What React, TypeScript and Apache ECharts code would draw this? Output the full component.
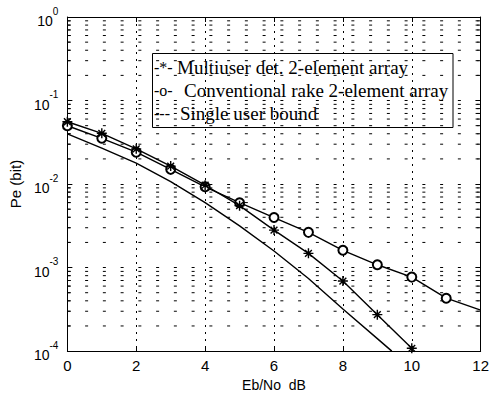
import React, { useEffect, useRef } from "react";
import * as echarts from "echarts";

// Eb/No (dB) and bit error probability
const X_MU = [0, 1, 2, 3, 4, 5, 6, 7, 8, 9, 10];
const PE_MU = [0.0557, 0.0405, 0.0264, 0.0164, 0.00968, 0.00551, 0.00281, 0.00148, 0.00069, 0.000273, 0.000108];

const X_CONV = [0, 1, 2, 3, 4, 5, 6, 7, 8, 9, 10, 11, 12];
const PE_CONV = [0.0499, 0.0353, 0.0241, 0.015, 0.00926, 0.00598, 0.00397, 0.00264, 0.00161, 0.00108, 0.000769, 0.00043, 0.00031];

const X_SU = [0, 1, 2, 3, 4, 5, 6, 7, 8, 9, 9.42];
const PE_SU = [0.0398, 0.0269, 0.0178, 0.0107, 0.006, 0.00316, 0.00158, 0.00074, 0.00032, 0.000141, 0.0001];

const LEGEND_SYMBOLS = ["-*-", "-o-", "---"];
const LEGEND_LABELS = [
  "Multiuser det. 2-element array",
  "Conventional rake 2-element array",
  "Single user bound",
];

const X_TICKS = [0, 2, 4, 6, 8, 10, 12];
const Y_DECADES = [-4, -3, -2, -1, 0];
const MINOR_MULTIPLIERS = [2, 3, 4, 5, 6, 7, 8, 9];

const X_MIN = X_TICKS[0];
const X_MAX = X_TICKS[X_TICKS.length - 1];
const Y_MIN = Math.pow(10, Y_DECADES[0]);
const Y_MAX = Math.pow(10, Y_DECADES[Y_DECADES.length - 1]);

const STAR = "path://M5,0L5,10M0,5L10,5M1.6,1.6L8.4,8.4M1.6,8.4L8.4,1.6";

export default function App() {
  const ref = useRef<HTMLDivElement>(null);

  useEffect(() => {
    if (!ref.current) return;
    const chart = echarts.init(ref.current, undefined, { renderer: "svg" });

    const minorValues: number[] = [];
    for (let d = Y_DECADES[0]; d < Y_DECADES[Y_DECADES.length - 1]; d++) {
      for (const m of MINOR_MULTIPLIERS) minorValues.push(m * Math.pow(10, d));
    }

    const sans = "Liberation Sans";
    const serif = "Liberation Serif";
    const rowY = [67, 90, 113];
    const labelX = [177, 184, 180];
    const tickLen = 0.1; // ~3.5px in x units

    const gridData: any[] = [];
    const leftTickData: any[] = [];
    const rightTickData: any[] = [];
    for (const v of minorValues) {
      gridData.push([X_MIN, v], [X_MAX, v], null);
      leftTickData.push([X_MIN, v], [X_MIN + tickLen, v], null);
      rightTickData.push([X_MAX - tickLen, v], [X_MAX, v], null);
    }

    const helperLine = (name: string, data: any[], type: any) => ({
      type: "line",
      name,
      z: 1,
      silent: true,
      data,
      symbol: "none",
      connectNulls: false,
      lineStyle: { color: "#000", width: 1, type },
    });

    const option: any = {
      animation: false,
      backgroundColor: "#fff",
      grid: { left: 59, right: 7, top: 17, bottom: 43 },
      xAxis: [
        {
          type: "value",
          min: X_MIN,
          max: X_MAX,
          interval: 2,
          name: "Eb/No  dB",
          nameLocation: "middle",
          nameGap: 22,
          nameTextStyle: { fontFamily: sans, fontSize: 14, color: "#000" },
          axisLine: { show: true, lineStyle: { color: "#000", width: 1 } },
          axisTick: { show: true, inside: true, length: 5, lineStyle: { color: "#000" } },
          axisLabel: { fontFamily: sans, fontSize: 15, color: "#000", margin: 7 },
          splitLine: { show: true, lineStyle: { color: "#000", width: 1, type: [2, 5] } },
        },
        {
          type: "value",
          position: "top",
          min: X_MIN,
          max: X_MAX,
          interval: 2,
          axisLine: { show: true, onZero: false, lineStyle: { color: "#000", width: 1 } },
          axisTick: { show: true, inside: true, length: 5, lineStyle: { color: "#000" } },
          axisLabel: { show: false },
          splitLine: { show: false },
        },
      ],
      yAxis: [
        {
          type: "log",
          logBase: 10,
          min: Y_MIN,
          max: Y_MAX,
          name: "Pe (bit)",
          nameLocation: "middle",
          nameGap: 38,
          nameTextStyle: { fontFamily: sans, fontSize: 15, color: "#000" },
          axisLine: { show: true, lineStyle: { color: "#000", width: 1 } },
          axisTick: { show: true, inside: true, length: 5, lineStyle: { color: "#000" } },
          axisLabel: {
            margin: 9,
            formatter: (v: number) => `{b|10}{s|${Math.round(Math.log10(v))}}`,
            rich: {
              b: { fontFamily: sans, fontSize: 14, color: "#000", lineHeight: 22, verticalAlign: "bottom" },
              s: { fontFamily: sans, fontSize: 10, color: "#000", lineHeight: 12, verticalAlign: "top" },
            },
          },
          splitLine: { show: true, lineStyle: { color: "#000", width: 1, type: [3, 14.75] } },
        },
        {
          type: "log",
          logBase: 10,
          position: "right",
          min: Y_MIN,
          max: Y_MAX,
          axisLine: { show: true, onZero: false, lineStyle: { color: "#000", width: 1 } },
          axisTick: { show: true, inside: true, length: 5, lineStyle: { color: "#000" } },
          axisLabel: { show: false },
          splitLine: { show: false },
        },
      ],
      series: [
        {
          type: "line",
          name: LEGEND_LABELS[2],
          z: 3,
          data: X_SU.map((x, i) => [x, PE_SU[i]]),
          symbol: "none",
          lineStyle: { color: "#000", width: 1.4 },
        },
        {
          type: "line",
          name: LEGEND_LABELS[1],
          z: 3,
          data: X_CONV.map((x, i) =>
            i === X_CONV.length - 1 ? { value: [x, PE_CONV[i]], symbol: "none" } : [x, PE_CONV[i]]
          ),
          symbol: "emptyCircle",
          symbolSize: 9,
          showAllSymbol: true,
          lineStyle: { color: "#000", width: 1.4 },
          itemStyle: { color: "#000" },
        },
        {
          type: "line",
          name: LEGEND_LABELS[0],
          z: 4,
          data: X_MU.map((x, i) => [x, PE_MU[i]]),
          symbol: STAR,
          symbolSize: 10,
          showAllSymbol: true,
          lineStyle: { color: "#000", width: 1.4 },
          itemStyle: { color: "transparent", borderColor: "#000", borderWidth: 1.4 },
        },
        helperLine("minor grid", gridData, [3, 14.75]),
        helperLine("minor ticks left", leftTickData, "solid"),
        helperLine("minor ticks right", rightTickData, "solid"),
      ],
      graphic: [
        {
          type: "group",
          z: 100,
          children: [
            {
              type: "rect",
              shape: { x: 152.5, y: 53.5, width: 300.5, height: 74 },
              style: { fill: "#fff", stroke: "#000", lineWidth: 1 },
            },
            ...LEGEND_LABELS.flatMap((label, i) => [
              {
                type: "text",
                style: {
                  text: LEGEND_SYMBOLS[i],
                  x: 154,
                  y: rowY[i],
                  fontFamily: serif,
                  fontSize: 16,
                  verticalAlign: "middle",
                  fill: "#000",
                },
              },
              {
                type: "text",
                style: {
                  text: label,
                  x: labelX[i],
                  y: rowY[i],
                  fontFamily: serif,
                  fontSize: 19,
                  verticalAlign: "middle",
                  fill: "#000",
                },
              },
            ]),
          ],
        },
      ],
    };

    chart.setOption(option);
    return () => chart.dispose();
  }, []);

  return (
    <div
      ref={ref}
      style={{ position: "absolute", left: 0, top: 0, width: 492, height: 397, background: "#fff" }}
    />
  );
}
